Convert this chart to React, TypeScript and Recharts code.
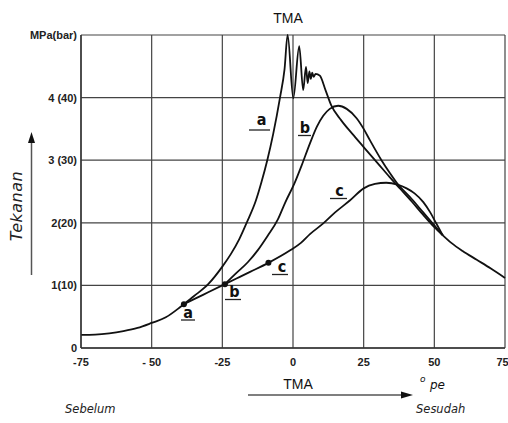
import { LineChart, Line, XAxis, YAxis, CartesianGrid, ReferenceDot } from 'recharts';

const xTicks = [-75, -50, -25, 0, 25, 50, 75];
const xTickLabels = ['-75', '- 50', '-25', '0', '25', '50', '75'];
const yTicks = [0, 1, 2, 3, 4, 5];
const yTickLabels = ['0', '1(10)', '2(20)', '3 (30)', '4 (40)', 'MPa(bar)'];

// shared start of all curves, up to point a
const commonX = [-75, -70, -65, -60, -55, -50, -45, -40, -38.6];
const commonY = [0.21, 0.215, 0.235, 0.27, 0.32, 0.4, 0.49, 0.65, 0.7];

// curve a (with the knock spikes near TMA)
const aX = [-38.6, -35, -30, -25, -22, -19, -16.4, -13.1, -11.1, -9.1, -7, -4.6, -3, -1.9, 0.1, 2.2, 3.6, 4.6, 5.2, 5.8, 6.3, 6.8, 7.3, 8, 9.5, 11.5, 13.5, 17, 21, 25, 30, 34.2, 38, 42, 46, 50, 53];
const aY = [0.7, 0.83, 1.02, 1.3, 1.5, 1.74, 2.0, 2.36, 2.66, 3.0, 3.42, 4.0, 4.45, 5.0, 3.99, 4.82, 4.12, 4.49, 4.23, 4.42, 4.3, 4.4, 4.33, 4.38, 4.35, 4.12, 3.88, 3.64, 3.42, 3.21, 2.95, 2.73, 2.54, 2.34, 2.13, 1.93, 1.8];

// common part of b and c between points a and b
const bcX = [-38.6, -35, -30, -24.1];
const bcY = [0.7, 0.78, 0.89, 1.02];

const bX = [-24.1, -20, -16, -12.5, -9, -5.4, -2.8, 0.7, 3, 6, 8.5, 10.7, 13, 16, 19, 22.5, 25, 27.2, 31.3, 34.2, 36.7, 42, 46, 50, 53];
const bY = [1.02, 1.2, 1.37, 1.56, 1.79, 2.05, 2.32, 2.65, 2.91, 3.27, 3.54, 3.71, 3.82, 3.87, 3.82, 3.67, 3.5, 3.32, 3.0, 2.8, 2.64, 2.38, 2.17, 1.96, 1.8];

const cX = [-24.1, -20, -15, -8.7, -1, 2.8, 6, 10.7, 15, 20.2, 25, 29, 33, 37, 40.2, 43, 46.1, 48.5, 50.8, 53];
const cY = [1.02, 1.11, 1.22, 1.36, 1.56, 1.68, 1.82, 1.99, 2.17, 2.36, 2.55, 2.62, 2.64, 2.61, 2.55, 2.47, 2.33, 2.17, 1.98, 1.8];

// shared tail after the curves meet
const tailX = [53, 56, 60, 65, 70, 75];
const tailY = [1.8, 1.68, 1.55, 1.41, 1.27, 1.12];

// ignition points a, b, c
const dotX = [-38.6, -24.1, -8.7];
const dotY = [0.7, 1.02, 1.36];

const zip = (xs: number[], ys: number[]) => xs.map((x, i) => ({ x, y: ys[i] }));

const segments = [
  zip(commonX, commonY),
  zip(aX, aY),
  zip(bcX, bcY),
  zip(bX, bY),
  zip(cX, cY),
  zip(tailX, tailY),
];

const tickFont = { fontSize: 11, fontFamily: 'Liberation Sans', fontWeight: 'bold', fill: '#222' };
const letterFont = { fontSize: 16, fontFamily: "'Liberation Sans Narrow', 'DejaVu Sans Condensed', 'Liberation Sans'", fontWeight: 'bold', fill: '#111' };

const CurveLabel = ({ x, y, text, x1, x2, uy }: { x: number; y: number; text: string; x1: number; x2: number; uy: number }) => (
  <g>
    <text x={x} y={y} textAnchor="middle" style={letterFont}>{text}</text>
    <line x1={x1} x2={x2} y1={uy} y2={uy} stroke="#222" strokeWidth={1.3} />
  </g>
);

export default function App() {
  return (
    <div style={{ position: 'absolute', left: 0, top: 0, width: 508, height: 423, background: '#fff' }}>
      <LineChart width={508} height={423} margin={{ top: 35, right: 3, bottom: 45, left: 0 }}>
        <CartesianGrid stroke="#444" strokeWidth={1.2} />
        <XAxis
          type="number"
          dataKey="x"
          domain={[-75, 75]}
          ticks={xTicks}
          tickFormatter={(v) => xTickLabels[xTicks.indexOf(v)]}
          axisLine={{ stroke: '#333', strokeWidth: 1.4 }}
          tickLine={false}
          tickSize={0}
          tickMargin={10}
          height={30}
          tick={tickFont}
        />
        <YAxis
          type="number"
          dataKey="y"
          domain={[0, 5]}
          ticks={yTicks}
          tickFormatter={(v) => yTickLabels[yTicks.indexOf(v)]}
          axisLine={{ stroke: '#333', strokeWidth: 1.4 }}
          tickLine={false}
          tickSize={0}
          tickMargin={4}
          width={81}
          tick={tickFont}
        />
        {segments.map((seg, i) => (
          <Line
            key={i}
            data={seg}
            dataKey="y"
            type="monotone"
            stroke="#111"
            strokeWidth={1.8}
            dot={false}
            activeDot={false}
            isAnimationActive={false}
          />
        ))}
        {dotX.map((x, i) => (
          <ReferenceDot key={i} x={x} y={dotY[i]} r={3} fill="#111" stroke="none" />
        ))}
      </LineChart>
      <svg width={508} height={423} style={{ position: 'absolute', left: 0, top: 0, pointerEvents: 'none' }}>
        <text x={288} y={23} textAnchor="middle" style={{ fontSize: 14, fontFamily: 'Liberation Sans', fill: '#111' }}>TMA</text>

        <text transform="translate(22,206) rotate(-90)" textAnchor="middle" style={{ fontSize: 16, fontFamily: 'DejaVu Sans', fontStyle: 'italic', fill: '#222', letterSpacing: 0.5 }}>Tekanan</text>
        <line x1={31.5} x2={31.5} y1={275} y2={140} stroke="#555" strokeWidth={1.5} />
        <polygon points="31.5,132 28,143 35,143" fill="#111" />

        <text x={298} y={389} textAnchor="middle" style={{ fontSize: 14, fontFamily: 'Liberation Sans', fill: '#111' }}>TMA</text>
        <line x1={248} x2={402} y1={395} y2={395} stroke="#555" strokeWidth={1.5} />
        <polygon points="413,395 401,391.5 401,398.5" fill="#111" />
        <text x={420} y={382} style={{ fontSize: 9, fontFamily: 'DejaVu Sans', fontStyle: 'italic', fill: '#111' }}>o</text>
        <text x={430} y={389} style={{ fontSize: 12, fontFamily: 'DejaVu Sans', fontStyle: 'italic', fill: '#111' }}>pe</text>

        <text x={65} y={413} style={{ fontSize: 11.5, fontFamily: 'DejaVu Sans', fontStyle: 'italic', fill: '#222' }}>Sebelum</text>
        <text x={416} y={413} style={{ fontSize: 11.5, fontFamily: 'DejaVu Sans', fontStyle: 'italic', fill: '#222' }}>Sesudah</text>

        <CurveLabel text="a" x={261.5} y={125} x1={249} x2={270} uy={130} />
        <CurveLabel text="b" x={305} y={133} x1={298} x2={311} uy={135.5} />
        <CurveLabel text="c" x={339.5} y={196} x1={330} x2={347} uy={198.5} />
        <CurveLabel text="c" x={282} y={272} x1={272} x2={288} uy={274.5} />
        <CurveLabel text="b" x={234.5} y={297} x1={225} x2={241} uy={299.5} />
        <CurveLabel text="a" x={188} y={318} x1={181} x2={195} uy={320} />
      </svg>
    </div>
  );
}
